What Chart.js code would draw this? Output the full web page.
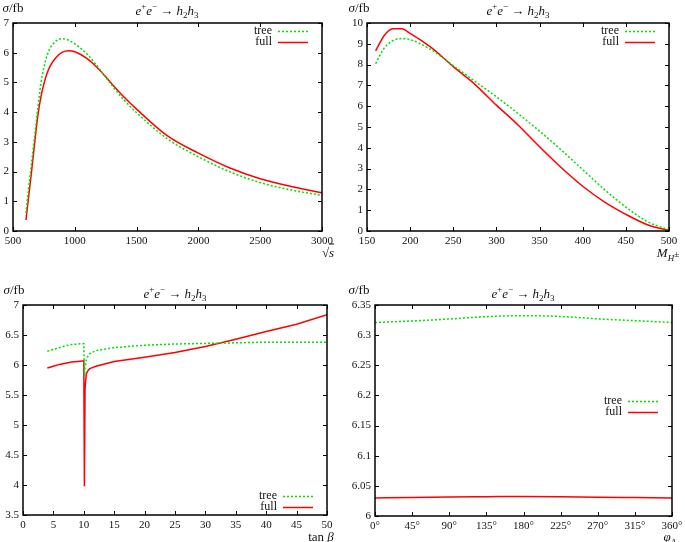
<!DOCTYPE html>
<html lang="en">
<head>
<meta charset="UTF-8">
<title>e+e- -> h2h3</title>
<script src="https://cdn.jsdelivr.net/npm/chart.js"></script>
<style>
  body { margin: 0; background: #fff; }
  #page { position: relative; width: 685px; height: 542px; overflow: hidden; font-family: 'Liberation Serif', 'DejaVu Serif', serif; color: #111; }
  canvas { position: absolute; }
  .txt { position: absolute; font-size: 13px; white-space: nowrap; line-height: 1; transform: translate(-50%, -50%); }
  .txt sub, .txt sup { font-size: 9px; line-height: 0; }
</style>
</head>
<body>
<div id="page">
  <canvas id="c1" width="340" height="262" style="left:0;top:0"></canvas>
  <canvas id="c2" width="345" height="262" style="left:340px;top:0"></canvas>
  <canvas id="c3" width="340" height="272" style="left:0;top:270px"></canvas>
  <canvas id="c4" width="345" height="272" style="left:340px;top:270px"></canvas>

  <div class="txt" style="left:167px;top:10px"><i>e</i><sup>+</sup><i>e</i><sup>&minus;</sup> &rarr; <i>h</i><sub>2</sub><i>h</i><sub>3</sub></div>
  <div class="txt" style="left:518px;top:10px"><i>e</i><sup>+</sup><i>e</i><sup>&minus;</sup> &rarr; <i>h</i><sub>2</sub><i>h</i><sub>3</sub></div>
  <div class="txt" style="left:175px;top:293px"><i>e</i><sup>+</sup><i>e</i><sup>&minus;</sup> &rarr; <i>h</i><sub>2</sub><i>h</i><sub>3</sub></div>
  <div class="txt" style="left:523px;top:293px"><i>e</i><sup>+</sup><i>e</i><sup>&minus;</sup> &rarr; <i>h</i><sub>2</sub><i>h</i><sub>3</sub></div>

  <div class="txt" style="left:13px;top:7px"><i>&sigma;</i>/fb</div>
  <div class="txt" style="left:359px;top:7px"><i>&sigma;</i>/fb</div>
  <div class="txt" style="left:14px;top:289px"><i>&sigma;</i>/fb</div>
  <div class="txt" style="left:359px;top:289px"><i>&sigma;</i>/fb</div>

  <div class="txt" style="left:328px;top:252px">&radic;<span style="text-decoration:overline"><i>s</i></span></div>
  <div class="txt" style="left:668px;top:252px"><i>M</i><sub><i>H</i><sup>&plusmn;</sup></sub></div>
  <div class="txt" style="left:321px;top:536px">tan <i>&beta;</i></div>
  <div class="txt" style="left:671px;top:537px"><i>&phi;</i><sub><i>A<sub>t</sub></i></sub></div>
</div>

<script>
// top left: sigma vs sqrt(s)
const sqrtS = [605, 625, 650, 675, 700, 725, 750, 775, 800, 850, 900, 950, 1000, 1100, 1200, 1300, 1400, 1500, 1750, 2000, 2250, 2500, 2750, 3000];
const treeS = [0.6, 1.4, 2.3, 3.2, 4.1, 4.95, 5.5, 5.9, 6.15, 6.4, 6.47, 6.42, 6.3, 5.95, 5.45, 4.9, 4.4, 3.98, 3.1, 2.5, 2.0, 1.63, 1.38, 1.2];
const fullS = [0.37, 1.1, 2.0, 2.95, 3.85, 4.5, 4.95, 5.3, 5.55, 5.85, 6.02, 6.07, 6.03, 5.8, 5.42, 4.95, 4.5, 4.1, 3.2, 2.62, 2.13, 1.76, 1.5, 1.29];

// top right: sigma vs M_H+
const mH = [160, 170, 180, 190, 200, 225, 250, 275, 300, 325, 350, 375, 400, 425, 450, 475, 500];
const treeM = [8.05, 8.8, 9.15, 9.25, 9.2, 8.7, 7.95, 7.2, 6.45, 5.65, 4.8, 3.9, 2.95, 2.0, 1.15, 0.45, 0.05];
const fullM = [8.66, 9.4, 9.72, 9.72, 9.5, 8.8, 7.9, 7.05, 6.05, 5.1, 4.05, 3.05, 2.15, 1.4, 0.8, 0.3, 0.02];

// bottom left: sigma vs tan beta
const tanB = [4, 5, 6, 7, 8, 9, 10, 10.1, 10.2, 10.4, 10.7, 11, 12, 15, 20, 25, 30, 35, 40, 45, 50];
const treeT = [6.23, 6.26, 6.29, 6.32, 6.34, 6.35, 6.355, 5.82, 5.95, 6.08, 6.15, 6.19, 6.24, 6.29, 6.33, 6.35, 6.36, 6.37, 6.38, 6.38, 6.38];
const fullT = [5.95, 5.98, 6.01, 6.03, 6.05, 6.06, 6.07, 3.98, 5.6, 5.85, 5.91, 5.94, 5.98, 6.06, 6.13, 6.21, 6.31, 6.43, 6.56, 6.68, 6.84];

// bottom right: sigma vs phase of A_t
const phi = [0, 45, 90, 135, 180, 225, 270, 315, 360];
const treeP = [6.321, 6.3235, 6.3268, 6.3306, 6.3323, 6.331, 6.327, 6.324, 6.321];
const fullP = [6.030, 6.0305, 6.0315, 6.032, 6.0325, 6.032, 6.031, 6.0305, 6.030];

const seriesNames = ['tree', 'full'];
const treeColor = '#00e000';
const fullColor = '#ff0000';
const tickFont = { family: "'Liberation Serif', 'DejaVu Serif', serif", size: 11 };

// gnuplot style frame: box + inward ticks on all four sides + key
const framePlugin = {
  id: 'frame',
  afterDraw(chart, args, opts) {
    const { ctx, chartArea: a, scales: { x, y } } = chart;
    ctx.save();
    ctx.strokeStyle = '#000';
    ctx.lineWidth = 1;
    ctx.beginPath();
    x.ticks.forEach(t => {
      const px = Math.round(x.getPixelForValue(t.value)) + 0.5;
      ctx.moveTo(px, a.bottom); ctx.lineTo(px, a.bottom - 4);
      ctx.moveTo(px, a.top); ctx.lineTo(px, a.top + 4);
    });
    y.ticks.forEach(t => {
      const py = Math.round(y.getPixelForValue(t.value)) + 0.5;
      ctx.moveTo(a.left, py); ctx.lineTo(a.left + 4, py);
      ctx.moveTo(a.right, py); ctx.lineTo(a.right - 4, py);
    });
    ctx.stroke();
    ctx.lineWidth = 1.5;
    ctx.strokeRect(a.left, a.top, a.right - a.left, a.bottom - a.top);

    // key
    const ky = opts.keyTop != null ? a.top + opts.keyTop : a.bottom + opts.keyBottom;
    ctx.font = "12px 'Liberation Serif', 'DejaVu Serif', serif";
    ctx.fillStyle = '#111';
    ctx.textAlign = 'right';
    ctx.textBaseline = 'middle';
    chart.data.datasets.forEach((ds, i) => {
      const yy = ky + i * 11;
      ctx.fillText(ds.label, a.right - 50, yy);
      ctx.strokeStyle = ds.borderColor;
      ctx.lineWidth = 1.5;
      ctx.setLineDash(ds.borderDash || []);
      ctx.beginPath();
      ctx.moveTo(a.right - 44, yy + 0.5);
      ctx.lineTo(a.right - 14, yy + 0.5);
      ctx.stroke();
      ctx.setLineDash([]);
    });
    ctx.restore();
  }
};

const plain = v => String(Math.round(v * 100) / 100);

function makeChart(id, xs, tree, full, xr, yr, box, key, xfmt, smooth) {
  const mk = (label, ys, color, dash) => ({
    label: label,
    data: xs.map((v, i) => ({ x: v, y: ys[i] })),
    borderColor: color,
    borderWidth: 1.5,
    borderDash: dash,
    pointRadius: 0,
    fill: false,
    cubicInterpolationMode: smooth ? 'monotone' : 'default',
    tension: 0
  });
  return new Chart(document.getElementById(id), {
    type: 'line',
    data: {
      datasets: [
        mk(seriesNames[0], tree, treeColor, [2, 2]),
        mk(seriesNames[1], full, fullColor, [])
      ]
    },
    options: {
      responsive: false,
      animation: false,
      layout: { padding: { left: 0, top: box.top, right: box.right, bottom: box.bottom } },
      plugins: { legend: { display: false }, tooltip: { enabled: false }, frame: key },
      scales: {
        x: {
          type: 'linear', min: xr[0], max: xr[1],
          grid: { display: false, drawTicks: false }, border: { display: false },
          ticks: { stepSize: xr[2], font: tickFont, color: '#111', padding: 4, maxRotation: 0, autoSkip: false,
                   callback: xfmt || plain },
          afterFit: s => { s.height = 20; s.paddingLeft = 0; s.paddingRight = 0; }
        },
        y: {
          type: 'linear', min: yr[0], max: yr[1],
          grid: { display: false, drawTicks: false }, border: { display: false },
          ticks: { stepSize: yr[2], font: tickFont, color: '#111', padding: 4, autoSkip: false, callback: plain },
          afterFit: s => { s.width = box.yw; s.paddingTop = 0; s.paddingBottom = 0; }
        }
      }
    },
    plugins: [framePlugin]
  });
}

makeChart('c1', sqrtS, treeS, fullS, [500, 3000, 500], [0, 7, 1],
  { yw: 13, top: 23, right: 18, bottom: 11 }, { keyTop: 8 }, null, true);
makeChart('c2', mH, treeM, fullM, [150, 500, 50], [0, 10, 1],
  { yw: 27, top: 23, right: 16, bottom: 11 }, { keyTop: 8 }, null, true);
makeChart('c3', tanB, treeT, fullT, [0, 50, 5], [3.5, 7, 0.5],
  { yw: 23, top: 35, right: 13, bottom: 7 }, { keyBottom: -19 }, null, false);
makeChart('c4', phi, treeP, fullP, [0, 360, 45], [6, 6.35, 0.05],
  { yw: 35, top: 35, right: 13, bottom: 6 }, { keyTop: 96 }, v => v + '\u00b0', true);
</script>
</body>
</html>
